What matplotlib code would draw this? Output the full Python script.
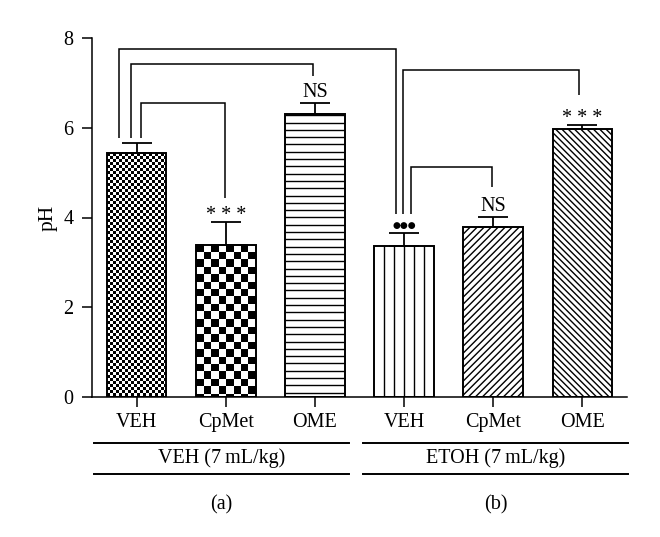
import numpy as np
import matplotlib
matplotlib.use('Agg')
import matplotlib.pyplot as plt
import matplotlib.transforms as mtransforms
from matplotlib.collections import LineCollection

# ---------------- data ----------------
treatments = ['VEH', 'CpMet', 'OME', 'VEH', 'CpMet', 'OME']
groups = ['VEH (7\u2009mL/kg)', 'ETOH (7\u2009mL/kg)']
panels = ['(a)', '(b)']
ph_mean = [5.43, 3.39, 6.30, 3.36, 3.79, 5.97]
ph_sem = [0.23, 0.51, 0.25, 0.29, 0.22, 0.09]
sig_labels = ['', '* * *', 'NS', '\u25CF\u25CF\u25CF', 'NS', '* * *']
patterns = ['fine_checker', 'checker', 'hlines', 'vlines', 'fwd', 'back']

# comparison brackets: (x_left, x_right, y_top, y_left_end, y_right_end)
brackets = [
    (-0.197, 2.908, 7.75, 5.77, 4.08),
    (-0.063, 1.978, 7.42, 5.77, 7.15),
    (0.049, 0.991, 6.55, 5.77, 4.43),
    (2.987, 4.960, 7.28, 4.08, 6.73),
    (3.076, 3.984, 5.12, 4.08, 4.68),
]

plt.rcParams['font.family'] = ['Liberation Serif', 'DejaVu Serif']
FS = 14.5
LW = 1.1

W, H = 660, 537
fig = plt.figure(figsize=(W / 100, H / 100), dpi=100)
ax = fig.add_axes([92 / W, (H - 397) / H, 535 / W, (397 - 38) / H])
ax.set_xlim(-0.5, 5.5)
ax.set_ylim(0, 8)

x = np.arange(len(ph_mean))
bw = 0.67

# pixel -> data scale
pxx = ax.transData.transform((1, 0))[0] - ax.transData.transform((0, 0))[0]
pxy = ax.transData.transform((0, 1))[1] - ax.transData.transform((0, 0))[1]


def checker(cell, nx, ny):
    j, i = np.meshgrid(np.arange(nx), np.arange(ny))
    return (((i // cell).astype(int) + (j // cell).astype(int)) % 2).astype(float)


bars = ax.bar(x, ph_mean, width=bw, color='none', edgecolor='black',
              linewidth=1.4, zorder=3)
for b, kind in zip(bars, patterns):
    x0, y0 = b.get_x(), b.get_y()
    w, h = b.get_width(), b.get_height()
    if kind in ('fine_checker', 'checker'):
        p0 = ax.transData.transform((x0, y0))
        p1 = ax.transData.transform((x0 + w, y0 + h))
        nx = max(int(round(p1[0] - p0[0])), 1)
        ny = max(int(round(p1[1] - p0[1])), 1)
        cell = 3 if kind == 'fine_checker' else 7.4
        img = checker(cell, nx, ny)
        ax.imshow(img, extent=(x0, x0 + w, y0, y0 + h), cmap='gray', vmin=0,
                  vmax=1, interpolation='nearest', aspect='auto', zorder=2)
        continue
    segs = []
    wpx, hpx = w * pxx, h * pxy
    if kind == 'hlines':
        for yy in np.arange(hpx - 1, 0, -7.3):
            segs.append([(x0, y0 + yy / pxy), (x0 + w, y0 + yy / pxy)])
    elif kind == 'vlines':
        for xx in np.arange(10, wpx - 2, 10):
            segs.append([(x0 + xx / pxx, y0), (x0 + xx / pxx, y0 + h)])
    else:
        sp = 7.0 if kind == 'fwd' else 6.3
        for c in np.arange(-hpx - sp, wpx + hpx + sp, sp):
            if kind == 'fwd':
                pts = [(c, 0), (c + hpx, hpx)]
            else:
                pts = [(c, hpx), (c + hpx, 0)]
            segs.append([(x0 + px / pxx, y0 + py / pxy) for px, py in pts])
    lc = LineCollection(segs, colors='black', linewidths=1.0, zorder=2)
    ax.add_collection(lc)
    lc.set_clip_path(b)
ax.set_xlim(-0.5, 5.5)
ax.set_ylim(0, 8)

# error bars (upper only)
ax.errorbar(x, ph_mean, yerr=[np.zeros(len(ph_sem)), ph_sem], fmt='none',
            ecolor='black', elinewidth=1.3, capsize=10.8, capthick=1.3, zorder=4)

# significance labels
for xi, m, s, lab in zip(x, ph_mean, ph_sem, sig_labels):
    if not lab:
        continue
    if lab.startswith('\u25CF'):
        ax.annotate(lab, (xi, m + s), xytext=(0, 2), textcoords='offset points',
                    ha='center', va='bottom', fontsize=6.5,
                    family=['DejaVu Sans'])
    elif lab.startswith('*'):
        ax.annotate(lab, (xi, m + s), xytext=(0, -2), textcoords='offset points',
                    ha='center', va='bottom', fontsize=FS)
    else:
        ax.annotate(lab, (xi, m + s), xytext=(0, 1), textcoords='offset points',
                    ha='center', va='bottom', fontsize=FS)

# brackets
for xl, xr, yt, yl, yr in brackets:
    ax.plot([xl, xl, xr, xr], [yl, yt, yt, yr], color='black', lw=LW,
            solid_capstyle='butt', solid_joinstyle='miter', zorder=5, clip_on=False)

# axes styling
for side in ['top', 'right']:
    ax.spines[side].set_visible(False)
for side in ['left', 'bottom']:
    ax.spines[side].set_linewidth(LW)
ax.set_yticks([0, 2, 4, 6, 8])
ax.set_xticks(x, treatments)
ax.tick_params(axis='both', length=7.2, width=LW, labelsize=FS, direction='out')
ax.tick_params(axis='x', pad=4)
ax.tick_params(axis='y', pad=6)
ax.set_ylabel('pH', fontsize=FS + 1, labelpad=4)

# group annotations below axis
trans = mtransforms.blended_transform_factory(ax.transData, fig.transFigure)
group_spans = [(-0.478, 2.38), (2.54, 5.51)]
for (g0, g1), g, pnl in zip(group_spans, groups, panels):
    for yy in [(H - 443) / H, (H - 474) / H]:
        ax.plot([g0, g1], [yy, yy], transform=trans, color='black', lw=1.4,
                clip_on=False)
    gc = (g0 + g1) / 2
    ax.text(gc, (H - 458) / H, g, transform=trans, ha='center', va='center',
            fontsize=FS)
    ax.text(gc, (H - 505) / H, pnl, transform=trans, ha='center', va='center',
            fontsize=FS)

fig.savefig('out.png', dpi=100)
